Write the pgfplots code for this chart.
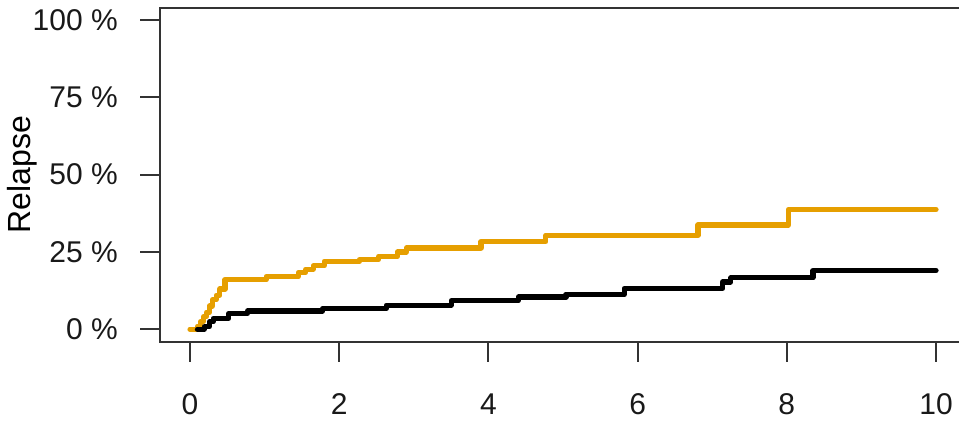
\documentclass[border=0pt]{standalone}
\usepackage{fontspec}
\setmainfont{Liberation Sans}
\usepackage{pgfplots}
\pgfplotsset{compat=1.18}
\definecolor{rorange}{RGB}{230,159,0}
\begin{document}
\fontsize{15}{18}\selectfont
\begin{tikzpicture}
\begin{axis}[
 scale only axis,
 width=402.8pt, height=166.9pt,
 xmin=-0.4, xmax=10.4, ymin=-4, ymax=104,
 xtick={0,2,4,6,8,10}, ytick={0,25,50,75,100},
 yticklabels={0 \%,25 \%,50 \%,75 \%,100 \%},
 /pgf/number format/assume math mode=true,
 tick align=outside, xtick pos=lower, ytick pos=left,
 major tick length=10pt,
 axis line style={line width=1pt, black!80},
 every tick/.style={line width=1pt, black!80},
 ticklabel style={font=\fontsize{15}{18}\selectfont, text=black!90},
 yticklabel style={inner sep=0pt, xshift=-11pt},
 xticklabel style={inner sep=0pt, yshift=-16pt},
 ylabel={Relapse},
 ylabel style={at={(rel axis cs:-0.1713,0.5)}, anchor=center, rotate=0, font=\fontsize{16}{18}\selectfont, inner sep=0pt},
 clip=false,
]
\addplot[const plot, rorange, line width=2.6pt, line cap=round, line join=round] coordinates {
(0,0) (0.1,1) (0.14,2.4) (0.18,4) (0.22,5.5) (0.26,7.5) (0.3,9.5) (0.35,11) (0.4,13) (0.47,16)
(1.02,17) (1.45,18.3) (1.55,19.4) (1.65,20.5) (1.8,22) (2.27,22.5) (2.53,23.6) (2.78,25) (2.9,26.3)
(3.9,28.3) (4.77,30.4) (6.81,33.7) (8.02,38.7) (10,38.7)};
\addplot[const plot, black, line width=2.6pt, line cap=round, line join=round] coordinates {
(0.1,0) (0.19,0.8) (0.26,2.4) (0.31,3.5) (0.52,5.1) (0.77,5.9) (1.78,6.7) (2.63,7.8) (3.5,9.2)
(4.4,10.4) (5.04,11.3) (5.82,13.2) (7.14,15.3) (7.25,16.6) (8.35,19) (10,19)};
\coordinate (bl) at (axis cs:-2.547,-29.8);
\coordinate (tr) at (axis cs:10.308,106.5);
\end{axis}
\pgfresetboundingbox
\useasboundingbox (bl) rectangle (tr);
\end{tikzpicture}
\end{document}
